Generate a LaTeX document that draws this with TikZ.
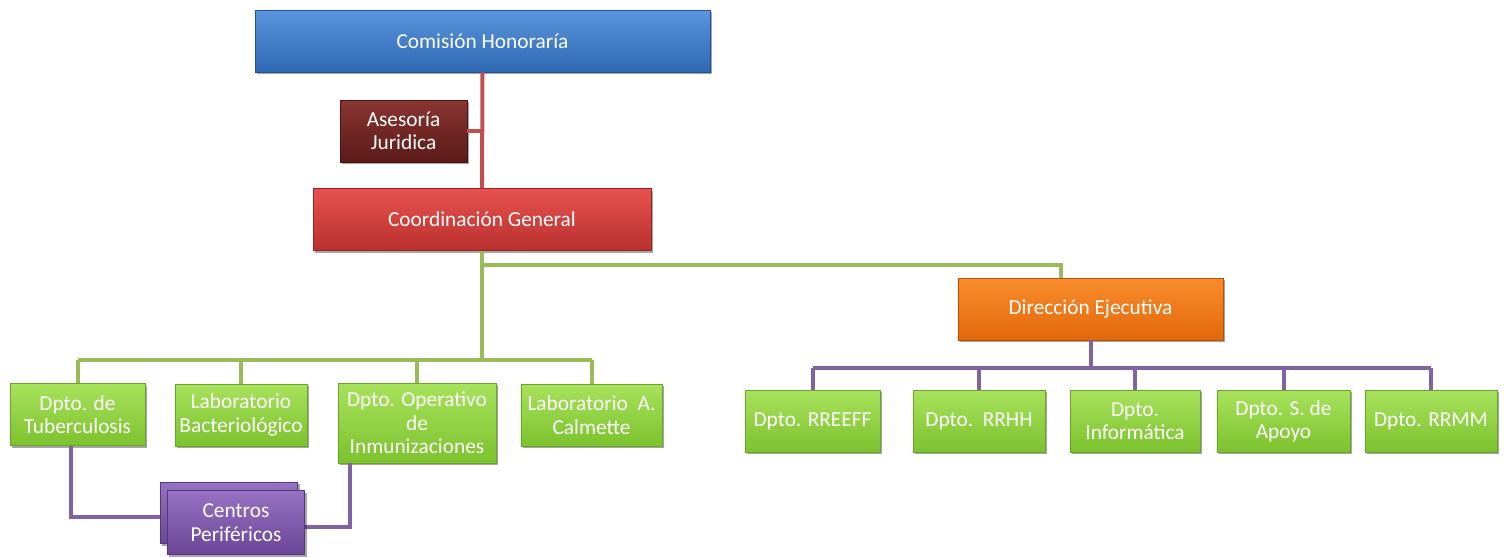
\documentclass[tikz,border=0pt]{standalone}
\usepackage{fontspec}
\setmainfont{Carlito}
\usepackage{xcolor}
\usepackage{tikz}
\usetikzlibrary{positioning,shadows}
\definecolor{orgBlueTop}{HTML}{5B95DC}
\definecolor{orgBlueBot}{HTML}{2F68B4}
\definecolor{orgBrownTop}{HTML}{8A3530}
\definecolor{orgBrownBot}{HTML}{5A1A18}
\definecolor{orgRedTop}{HTML}{E8524E}
\definecolor{orgRedBot}{HTML}{B8302E}
\definecolor{orgOrangeTop}{HTML}{F98C2C}
\definecolor{orgOrangeBot}{HTML}{E2680A}
\definecolor{orgGreenTop}{HTML}{A8E25C}
\definecolor{orgGreenBot}{HTML}{7CC22E}
\definecolor{orgPurpleTop}{HTML}{9872C2}
\definecolor{orgPurpleBot}{HTML}{6C4696}
\definecolor{orgRedLine}{HTML}{C0504D}
\definecolor{orgGreenLine}{HTML}{9BBB59}
\definecolor{orgPurpleLine}{HTML}{8064A2}

\begin{document}
\begin{tikzpicture}[
  x=0.75pt, y=-0.75pt,
  font=\fontsize{16}{17.5}\selectfont,
  unit/.style={text=white, align=center, inner sep=2pt, minimum height=46.5pt,
    drop shadow={shadow xshift=1.5pt, shadow yshift=-1.5pt, opacity=.35, fill=black}},
  board/.style={unit, draw=orgBlueBot!80!black, top color=orgBlueTop, bottom color=orgBlueBot},
  legal/.style={unit, draw=orgBrownBot!80!black, top color=orgBrownTop, bottom color=orgBrownBot},
  coordination/.style={unit, draw=orgRedBot!80!black, top color=orgRedTop, bottom color=orgRedBot},
  direction/.style={unit, draw=orgOrangeBot!80!black, top color=orgOrangeTop, bottom color=orgOrangeBot},
  dept/.style={unit, draw=orgGreenBot!85!black, top color=orgGreenTop, bottom color=orgGreenBot},
  centre/.style={unit, draw=orgPurpleBot!80!black, top color=orgPurpleTop, bottom color=orgPurpleBot},
  redline/.style={line width=3pt, draw=orgRedLine},
  greenline/.style={line width=3pt, draw=orgGreenLine},
  purpleline/.style={line width=3pt, draw=orgPurpleLine}
]
  \useasboundingbox (0,0) rectangle (1505,557);

  % top of the chart
  \node[board, minimum width=341pt] (comision) at (482.5,41) {Comisión Honoraría};
  \node[legal, minimum width=95pt] (asesoria) at (403.5,131) {Asesoría\\Juridica};
  \node[coordination, minimum width=253.5pt] (coord) at (482,219.5) {Coordinación General};
  \node[direction, minimum width=199pt] (dir) at (1090.5,309) {Dirección Ejecutiva};

  \coordinate (gbus) at (482,360);
  \coordinate (pbus) at (1092,368);

  \draw[redline] (comision.south) -- (coord.north);
  \draw[redline] (asesoria.east) -- (asesoria.east -| comision.south);
  \draw[greenline] (coord.south) -- (gbus);
  \draw[greenline] (coord.south) -- ++(0,14) -| ([xshift=-22.5pt]dir.north);
  \draw[purpleline] (dir.south) -- (dir.south |- pbus);

  % departments under Coordinacion General
  \node[dept, minimum width=101pt] (tuber) at (77.5,414.5) {Dpto. de\\Tuberculosis};
  \node[dept, minimum width=99pt] (bact) at (241,415) {Laboratorio\\Bacteriológico};
  \node[dept, minimum width=118.5pt, minimum height=60pt] (oper) at (417,423) {Dpto. Operativo\\de\\Inmunizaciones};
  \node[dept, minimum width=106pt] (calm) at (591.5,415) {Laboratorio~ A.\\Calmette};

  \draw[greenline] (tuber.north |- gbus) -- (calm.north |- gbus);
  \foreach \n in {tuber,bact,oper,calm}
    \draw[greenline] (\n.north) -- (\n.north |- gbus);

  % departments under Direccion Ejecutiva
  \node[dept, minimum width=101pt] (rreeff) at (812.5,421) {Dpto. RREEFF};
  \node[dept, minimum width=99pt] (rrhh) at (979,421) {Dpto.\ \ RRHH};
  \node[dept, minimum width=97.5pt] (info) at (1135,421) {Dpto.\\Informática};
  \node[dept, minimum width=100pt] (apoyo) at (1283.5,421) {Dpto. S. de\\Apoyo};
  \node[dept, minimum width=99pt] (rrmm) at (1431,421) {Dpto. RRMM};

  \draw[purpleline] (rreeff.north |- pbus) -- (rrmm.north |- pbus);
  \foreach \n in {rreeff,rrhh,info,apoyo,rrmm}
    \draw[purpleline] (\n.north) -- (\n.north |- pbus);

  % centros perifericos
  \draw[purpleline] ([xshift=-5pt]tuber.south) |- (223,517);
  \draw[purpleline] ([xshift=9pt]oper.south west) |- (250,527);
  \node[centre, minimum width=103pt, minimum height=46pt] (centrosback) at (229,513) {};
  \node[centre, minimum width=103pt, minimum height=48pt] (centros) at (236,522.5) {Centros\\Periféricos};
\end{tikzpicture}
\end{document}
